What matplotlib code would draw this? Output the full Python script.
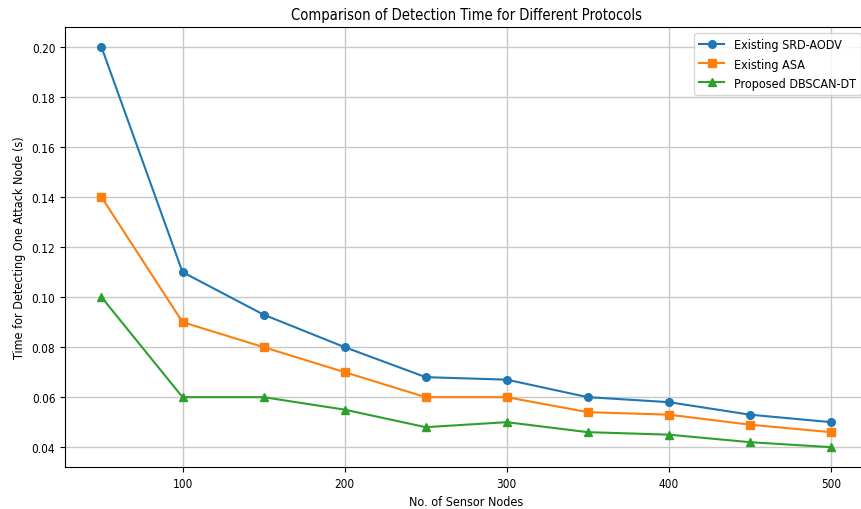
import matplotlib.pyplot as plt

plt.rcParams['font.family'] = ['DejaVu Sans']
plt.rcParams['font.stretch'] = 'condensed'

# 数据
nodes = [50, 100, 150, 200, 250, 300, 350, 400, 450, 500]
srd_aodv = [0.20, 0.11, 0.093, 0.080, 0.068, 0.067, 0.060, 0.058, 0.053, 0.050]
asa = [0.14, 0.09, 0.080, 0.070, 0.060, 0.060, 0.054, 0.053, 0.049, 0.046]
dbscan_dt = [0.10, 0.06, 0.060, 0.055, 0.048, 0.050, 0.046, 0.045, 0.042, 0.040]

fig = plt.figure(figsize=(8.61, 5.10), dpi=100)
ax = fig.add_axes([0.0755, 0.082, 0.932, 0.863])

ax.plot(nodes, srd_aodv, marker='o', markersize=5.5, label='Existing SRD-AODV')
ax.plot(nodes, asa, marker='s', markersize=5.5, label='Existing ASA')
ax.plot(nodes, dbscan_dt, marker='^', markersize=5.5, label='Proposed DBSCAN-DT')

ax.set_title('Comparison of Detection Time for Different Protocols', fontsize=10.5)
ax.set_xlabel('No. of Sensor Nodes', fontsize=9)
ax.set_ylabel('Time for Detecting One Attack Node (s)', fontsize=9)
ax.tick_params(labelsize=8.5)
ax.spines['right'].set_visible(False)

ax.grid(True, color='#c8c8c8', linewidth=1)
ax.legend(loc='upper right', fontsize=9)

fig.savefig('out.png', dpi=100)
